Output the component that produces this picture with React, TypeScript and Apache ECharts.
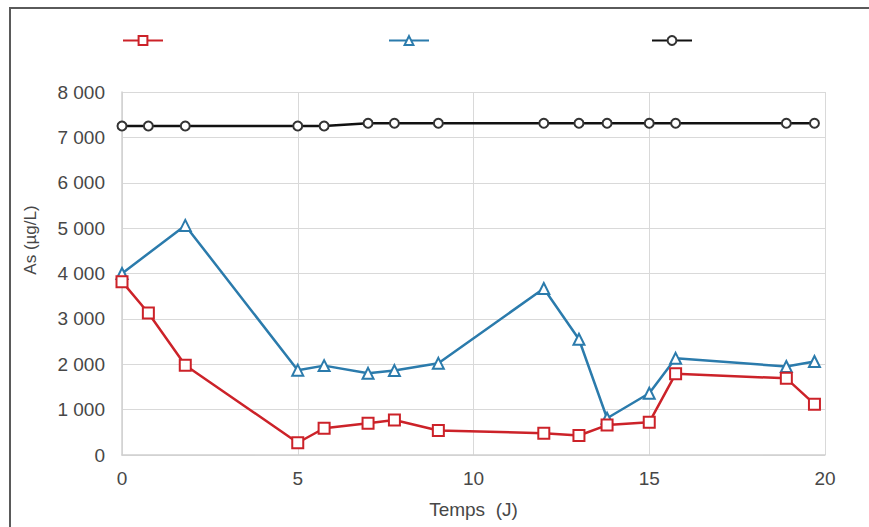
import React, { useEffect, useRef } from "react";
import * as echarts from "echarts";

const times = [0, 0.75, 1.8, 5, 5.75, 7, 7.75, 9, 12, 13, 13.8, 15, 15.75, 18.9, 19.7];
const redValues = [3820, 3130, 1980, 270, 590, 700, 770, 540, 480, 430, 660, 720, 1790, 1690, 1120];
const blueValues = [4000, null, 5060, 1870, 1970, 1800, 1860, 2020, 3670, 2550, 810, 1360, 2130, 1950, 2060];
const blackValues = [7250, 7250, 7250, 7250, 7250, 7310, 7310, 7310, 7310, 7310, 7310, 7310, 7310, 7310, 7310];
const seriesNames = ["Série 1", "Série 2", "Série 3"];
const xTitle = "Temps  (J)";
const yTitle = "As (µg/L)";

const RED = "#cc2229";
const BLUE = "#2b7bac";
const BLACK = "#111111";
const TXT = "#474747";
const FONT = "'Liberation Sans', Arial, sans-serif";

const pairs = (vals: (number | null)[]) => times.map((t, i) => [t, vals[i]]);

export default function App() {
  const ref = useRef<HTMLDivElement>(null);
  useEffect(() => {
    if (!ref.current) return;
    const chart = echarts.init(ref.current, null, { renderer: "svg" });
    const legendBase = {
      top: 30,
      itemWidth: 40,
      itemHeight: 11,
      formatter: () => "",
      selectedMode: false,
      textStyle: { fontSize: 1 },
    };
    chart.setOption({
      animation: false,
      backgroundColor: "#ffffff",
      textStyle: { fontFamily: FONT },
      graphic: [
        {
          type: "rect",
          shape: { x: 10, y: 8, width: 900, height: 600 },
          style: { fill: "none", stroke: "#5a5a5a", lineWidth: 2 },
          silent: true,
        },
        {
          type: "text",
          x: 30,
          y: 240,
          rotation: Math.PI / 2,
          style: {
            text: yTitle,
            font: `17px ${FONT}`,
            fill: TXT,
            align: "center",
            verticalAlign: "middle",
          },
        },
      ],
      legend: [
        { ...legendBase, left: 117, data: [seriesNames[0]] },
        { ...legendBase, left: 383, data: [seriesNames[1]] },
        { ...legendBase, left: 646, data: [seriesNames[2]] },
      ],
      grid: { left: 122, right: 44, top: 92, bottom: 72, containLabel: false },
      xAxis: {
        type: "value",
        min: 0,
        max: 20,
        interval: 5,
        name: xTitle,
        nameLocation: "middle",
        nameGap: 45,
        nameTextStyle: { fontSize: 19, color: TXT, fontFamily: FONT },
        axisLine: { show: true, lineStyle: { color: "#d0d0d0", width: 1.5 } },
        axisTick: { show: false },
        axisLabel: { fontSize: 19, color: TXT, margin: 14, fontFamily: FONT },
        splitLine: { show: true, lineStyle: { color: "#d9d9d9", width: 1 } },
      },
      yAxis: {
        type: "value",
        min: 0,
        max: 8000,
        interval: 1000,
        axisLine: { show: true, lineStyle: { color: "#d0d0d0", width: 1.5 } },
        axisTick: { show: false },
        axisLabel: {
          fontSize: 19,
          color: TXT,
          margin: 17,
          fontFamily: FONT,
          formatter: (v: number) => String(v).replace(/\B(?=(\d{3})+(?!\d))/g, " "),
        },
        splitLine: { show: true, lineStyle: { color: "#d9d9d9", width: 1 } },
      },
      series: [
        {
          name: seriesNames[0],
          type: "line",
          data: pairs(redValues),
          symbol: "emptyRect",
          symbolSize: 11,
          lineStyle: { color: RED, width: 2.5 },
          itemStyle: { color: RED, borderWidth: 2, borderColor: RED },
          z: 4,
        },
        {
          name: seriesNames[1],
          type: "line",
          data: pairs(blueValues),
          connectNulls: true,
          symbol: "emptyTriangle",
          symbolSize: 11,
          lineStyle: { color: BLUE, width: 2.5 },
          itemStyle: { color: BLUE, borderWidth: 1.5, borderColor: BLUE },
          z: 3,
        },
        {
          name: seriesNames[2],
          type: "line",
          data: pairs(blackValues),
          symbol: "emptyCircle",
          symbolSize: 9,
          lineStyle: { color: BLACK, width: 2.5 },
          itemStyle: { color: "#333", borderWidth: 1.5, borderColor: "#333" },
          z: 2,
        },
      ],
    });
    return () => chart.dispose();
  }, []);
  return (
    <div
      ref={ref}
      style={{ position: "fixed", left: 0, top: 0, width: 869, height: 527, background: "#fff" }}
    />
  );
}
